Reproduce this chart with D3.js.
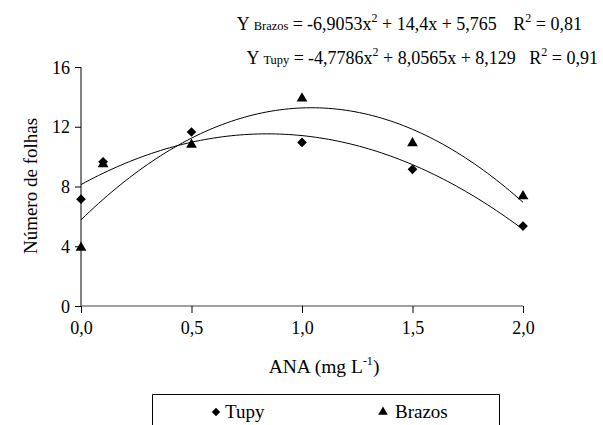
<!DOCTYPE html>
<html>
<head>
<meta charset="utf-8">
<script src="https://cdn.jsdelivr.net/npm/d3@7"></script>
<style>
  body { margin: 0; background: #fff; }
</style>
</head>
<body>
<div id="chart"></div>
<script>
var width = 603, height = 425;
var serif = "'Liberation Serif', 'Times New Roman', Times, 'DejaVu Serif', serif";

// doses de ANA (mg L-1)
var doses = [0, 0.1, 0.5, 1.0, 1.5, 2.0];
var tupy = [7.15, 9.65, 11.65, 10.95, 9.15, 5.35];
var brazos = [3.9, 9.5, 10.8, 13.9, 10.9, 7.35];

var coefBrazos = [-6.9053, 14.4, 5.765];
var coefTupy = [-4.7786, 8.0565, 8.129];

var xTicks = [0, 0.5, 1.0, 1.5, 2.0];
var yTicks = [0, 4, 8, 12, 16];

var svg = d3.select("#chart").append("svg")
    .attr("width", width)
    .attr("height", height)
    .attr("font-family", serif);

var x = d3.scaleLinear().domain([0, 2]).range([81, 523]);
var y = d3.scaleLinear().domain([0, 16]).range([306, 67]);

// eixo y
var yAxis = svg.append("g")
    .attr("transform", "translate(81,0)")
    .call(d3.axisLeft(y).tickValues(yTicks).tickSize(6).tickPadding(5).tickFormat(d3.format("d")));
yAxis.attr("font-family", serif).attr("font-size", 18);
yAxis.select(".domain").attr("stroke", "#000").attr("d", "M0," + y(16) + "V" + y(0));
yAxis.selectAll("text").attr("dy", "0.34em");

// eixo x
var xAxis = svg.append("g")
    .attr("transform", "translate(0,306)")
    .call(d3.axisBottom(x).tickValues(xTicks).tickSize(7).tickPadding(8)
        .tickFormat(function (d) { return d3.format(".1f")(d).replace(".", ","); }));
xAxis.attr("font-family", serif).attr("font-size", 18);
xAxis.select(".domain").attr("stroke", "#808080").attr("stroke-width", 1.5).attr("d", "M" + x(0) + ",0H" + x(2));

// títulos dos eixos
svg.append("text")
    .attr("transform", "translate(37,186) rotate(-90)")
    .attr("text-anchor", "middle")
    .attr("font-size", 19)
    .text("Número de folhas");

var xt = svg.append("text")
    .attr("x", 324).attr("y", 373)
    .attr("text-anchor", "middle")
    .attr("font-size", 19.5);
xt.append("tspan").text("ANA (mg L");
xt.append("tspan").attr("dy", -8).attr("font-size", 12).text("-1");
xt.append("tspan").attr("dy", 8).text(")");

// curvas de regressão
function curve(c) {
    var pts = d3.range(0, 2.0001, 0.02);
    return d3.line()
        .x(function (d) { return x(d); })
        .y(function (d) { return y(c[0] * d * d + c[1] * d + c[2]); })
        .curve(d3.curveMonotoneX)(pts);
}
svg.append("path").attr("d", curve(coefTupy)).attr("fill", "none").attr("stroke", "#000").attr("stroke-width", 1);
svg.append("path").attr("d", curve(coefBrazos)).attr("fill", "none").attr("stroke", "#000").attr("stroke-width", 1);

// pontos
var diamond = d3.symbol().type(d3.symbolDiamond2).size(60);
var triangle = d3.symbol().type(d3.symbolTriangle).size(50);

svg.selectAll(".tupy").data(doses).enter().append("path")
    .attr("class", "tupy")
    .attr("d", diamond)
    .attr("transform", function (d, i) { return "translate(" + x(d) + "," + y(tupy[i]) + ")"; })
    .attr("fill", "#000");

svg.selectAll(".brazos").data(doses).enter().append("path")
    .attr("class", "brazos")
    .attr("d", triangle)
    .attr("transform", function (d, i) { return "translate(" + x(d) + "," + y(brazos[i]) + ")"; })
    .attr("fill", "#000");

// equações
function num(v) { return String(v).replace(".", ","); }
function equation(yPos, name, c, r2, xEq, xEnd) {
    var a = svg.append("text").attr("x", xEq - 4).attr("y", yPos).attr("text-anchor", "end").attr("font-size", 18);
    a.append("tspan").text("Y ");
    a.append("tspan").attr("font-size", 12.5).text(name);
    a.append("tspan").text(" =");
    var t = svg.append("text").attr("x", xEq).attr("y", yPos).attr("font-size", 18);
    t.append("tspan").text(num(c[0]) + "x");
    t.append("tspan").attr("dy", -8).attr("font-size", 12).text("2");
    t.append("tspan").attr("dy", 8).text(" + " + num(c[1]) + "x + " + num(c[2]));
    var r = svg.append("text").attr("x", xEnd).attr("y", yPos).attr("text-anchor", "end").attr("font-size", 18);
    r.append("tspan").text("R");
    r.append("tspan").attr("dy", -8).attr("font-size", 12).text("2");
    r.append("tspan").attr("dy", 8).text(" = " + r2);
}
equation(30, "Brazos", coefBrazos, "0,81", 307, 582);
equation(64, "Tupy", coefTupy, "0,91", 308, 598);

// legenda
svg.append("path")
    .attr("d", "M152.5,440V394.5H499.5V440")
    .attr("fill", "none")
    .attr("stroke", "#000")
    .attr("stroke-width", 1);
svg.append("path").attr("d", d3.symbol().type(d3.symbolDiamond2).size(45))
    .attr("transform", "translate(216,412)").attr("fill", "#000");
svg.append("text").attr("x", 225).attr("y", 418).attr("font-size", 19).text("Tupy");
svg.append("path").attr("d", d3.symbol().type(d3.symbolTriangle).size(40))
    .attr("transform", "translate(383,412)").attr("fill", "#000");
svg.append("text").attr("x", 395).attr("y", 418).attr("font-size", 19).text("Brazos");
</script>
</body>
</html>
